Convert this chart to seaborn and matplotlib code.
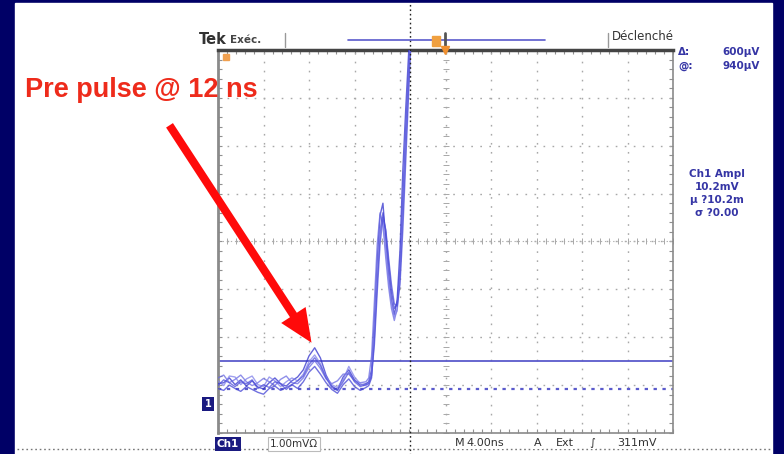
import numpy as np
import pandas as pd
import matplotlib
matplotlib.use('Agg')
import matplotlib.pyplot as plt
import seaborn as sns
from matplotlib.patches import Rectangle, FancyArrowPatch, ArrowStyle
from matplotlib.lines import Line2D

# ------------------------------------------------------------
# data (time in ns, level in mV above ground)
# ------------------------------------------------------------
time_ns = [0.0, 0.5, 1.0, 1.5, 2.0, 2.5, 3.0, 3.5, 4.0, 4.5, 5.0, 5.5, 6.0,
           6.5, 7.0, 7.5, 8.0, 8.5, 9.0, 9.5, 10.0, 10.5, 11.0, 11.5, 12.0,
           12.5, 13.0, 13.25, 13.5, 13.75, 14.0, 14.25, 14.5, 14.75, 15.0,
           15.25, 15.5, 15.75, 16.0, 16.25, 16.5, 16.75, 17.0, 17.25, 17.5]

trace_a = [0.38, 0.40, 0.50, 0.36, 0.46, 0.33, 0.44, 0.31, 0.27, 0.40, 0.50,
           0.38, 0.33, 0.44, 0.52, 0.67, 0.96, 1.13, 0.92, 0.56, 0.33, 0.25,
           0.52, 0.67, 0.46, 0.35, 0.38, 0.42, 0.67, 1.71, 2.96, 3.90, 4.15,
           3.38, 2.65, 2.13, 1.82, 2.13, 3.17, 4.84, 6.10, 7.24, 8.40, 9.50,
           10.0]
trace_b = [0.50, 0.56, 0.40, 0.47, 0.56, 0.42, 0.34, 0.40, 0.49, 0.42, 0.34,
           0.47, 0.54, 0.40, 0.38, 0.50, 0.72, 0.86, 0.70, 0.48, 0.38, 0.44,
           0.58, 0.58, 0.44, 0.40, 0.42, 0.50, 0.95, 2.10, 3.30, 3.95, 3.70,
           3.00, 2.40, 1.95, 1.70, 1.95, 2.80, 4.30, 5.70, 6.90, 8.10, 9.30,
           10.0]
trace_c = [0.28, 0.24, 0.35, 0.28, 0.22, 0.32, 0.26, 0.20, 0.16, 0.28, 0.33,
           0.24, 0.30, 0.36, 0.28, 0.42, 0.62, 0.74, 0.58, 0.40, 0.26, 0.18,
           0.36, 0.48, 0.32, 0.24, 0.30, 0.34, 0.50, 1.35, 2.55, 3.55, 3.95,
           3.55, 2.90, 2.30, 1.95, 2.05, 2.75, 4.10, 5.50, 6.80, 8.00, 9.20,
           10.0]
trace_d = [0.44, 0.34, 0.54, 0.52, 0.36, 0.48, 0.54, 0.36, 0.32, 0.52, 0.44,
           0.32, 0.42, 0.50, 0.44, 0.58, 0.84, 0.98, 0.80, 0.52, 0.36, 0.30,
           0.46, 0.74, 0.52, 0.38, 0.34, 0.40, 0.60, 1.50, 2.70, 3.60, 3.80,
           3.20, 2.55, 2.05, 1.78, 1.90, 2.60, 3.90, 5.30, 6.60, 7.90, 9.00,
           10.0]
trace_e = [0.34, 0.46, 0.40, 0.32, 0.42, 0.38, 0.46, 0.28, 0.36, 0.30, 0.42,
           0.38, 0.26, 0.36, 0.44, 0.54, 0.78, 0.92, 0.76, 0.50, 0.30, 0.24,
           0.42, 0.62, 0.42, 0.32, 0.36, 0.38, 0.55, 1.20, 2.30, 3.30, 3.85,
           3.60, 3.00, 2.45, 2.05, 2.00, 2.45, 3.60, 5.00, 6.40, 7.70, 8.90,
           10.0]

trace_names = ['a', 'b', 'c', 'd', 'e']
trace_vals = [trace_a, trace_b, trace_c, trace_d, trace_e]

cursor_solid = 0.86     # mV
cursor_dotted = 0.27    # mV
trigger_line_ns = 16.9  # black dotted marker

status_top = ['Tek', 'Exéc.', 'Déclenché']
cursor_text = [('Δ:', '600µV'), ('@:', '940µV')]
meas_lines = ['Ch1 Ampl', '10.2mV', 'µ ?10.2m', 'σ ?0.00']
bottom_text = ['Ch1', '1.00mVΩ', 'M', '4.00ns', 'A', 'Ext', '∫', '311mV']
note = 'Pre pulse @ 12 ns'

df = pd.concat([pd.DataFrame({'t': time_ns, 'v': v, 'trace': n})
                for n, v in zip(trace_names, trace_vals)], ignore_index=True)

# ------------------------------------------------------------
W, H = 784, 454
sns.set_style('white')
plt.rcParams['font.family'] = ['DejaVu Sans']

fig = plt.figure(figsize=(W / 100, H / 100), dpi=100)
fig.patch.set_facecolor('#000066')


def fx(x):
    return x / W


def fy(y):
    return 1 - y / H


# white screen panel
fig.add_artist(Rectangle((fx(15), 0), fx(772) - fx(15), fy(3),
                         transform=fig.transFigure, color='white', zorder=0))

# graticule axes
L, R, T, B = 218, 673, 50, 433
ax = fig.add_axes([fx(L), fy(B), fx(R) - fx(L), fy(T) - fy(B)])
ax.set_facecolor('white')
ymin, ymax = -0.65, 7.35
ax.set_xlim(0, 40)
ax.set_ylim(ymin, ymax)

# dotted division grid
for xv in np.arange(4, 40, 4):
    ax.axvline(xv, color='#a8a8a8', lw=1, ls=(0, (1.2, 5.3)), zorder=1)
for yv in np.arange(ymin + 1, ymax - 0.01, 1):
    ax.axhline(yv, color='#a8a8a8', lw=1, ls=(0, (1.2, 5.3)), zorder=1)

# center cross with fine ticks
yc = ymin + 4
ax.axhline(yc, color='#b0b0b0', lw=0.8, ls=(0, (1.2, 2.5)), zorder=1)
ax.plot(np.arange(0, 40.01, 0.8), np.full(51, yc), ls='none', marker='|',
        ms=4, mew=0.7, color='#a8a8a8', zorder=1)
ax.plot(np.full(41, 20), np.arange(ymin, ymax + 0.01, 0.2), ls='none',
        marker='_', ms=5, mew=0.7, color='#a8a8a8', zorder=1)

# traces
sns.lineplot(data=df, x='t', y='v', hue='trace', estimator=None, ax=ax,
             palette=['#3030cc', '#6a6ae2', '#4242d4', '#8080ea', '#5050da'],
             lw=1.0, alpha=0.75, legend=False, zorder=3)

# cursors
ax.axhline(cursor_solid, color='#5a5acc', lw=1.3, zorder=2)
ax.axhline(cursor_dotted, color='#5a5acc', lw=1.6, ls=(0, (1.5, 2.5)), zorder=2)
ax.axvline(trigger_line_ns, ymin=-0.06, ymax=1.125, color='#222222', lw=1,
           ls=(0, (1.2, 2)), clip_on=False, zorder=4)

ax.set_xlabel('')
ax.set_ylabel('')
ax.set_xticks(np.arange(0, 40.01, 0.8), minor=True)
ax.set_yticks(np.arange(ymin, ymax + 0.01, 0.2), minor=True)
ax.set_xticks([])
ax.set_yticks([])
ax.tick_params(which='minor', direction='in', length=3, width=0.8,
               color='#909090', top=True, right=True, bottom=True, left=True,
               labelbottom=False, labelleft=False)
for side in ['left', 'right', 'bottom']:
    ax.spines[side].set_color('#8a8a8a')
    ax.spines[side].set_linewidth(1.2)
ax.spines['left'].set_linewidth(2)
ax.spines['top'].set_color('#444444')
ax.spines['top'].set_linewidth(2.5)

# top status bar
fig.text(fx(199), fy(40), status_top[0], fontsize=10.5, fontweight='bold',
         color='#333333', va='center', ha='left')
fig.text(fx(230), fy(40), status_top[1], fontsize=7.5, fontweight='bold',
         color='#444444', va='center', ha='left')
fig.text(fx(612), fy(37), status_top[2], fontsize=8.5, color='#333333',
         va='center', ha='left')
for xs in [285, 608]:
    fig.add_artist(Line2D([fx(xs), fx(xs)], [fy(33), fy(47)], color='#999999',
                          lw=1, transform=fig.transFigure))
fig.add_artist(Line2D([fx(348), fx(545)], [fy(40), fy(40)], color='#5a5acc',
                      lw=1.2, transform=fig.transFigure))
fig.add_artist(Rectangle((fx(432), fy(46)), fx(8), fy(36) - fy(46),
                         transform=fig.transFigure, color='#f0a040', zorder=5))
fig.add_artist(Line2D([fx(445), fx(445)], [fy(33), fy(49)], color='#555555',
                      lw=2, transform=fig.transFigure, zorder=5))
fig.add_artist(Line2D([fx(445)], [fy(50)], marker='v', ms=6, color='#f09030',
                      transform=fig.transFigure, zorder=6))
fig.add_artist(Line2D([fx(226)], [fy(57)], marker='s', ms=4, color='#f0a050',
                      transform=fig.transFigure, zorder=6))

# cursor readouts
for i, (lab, val) in enumerate(cursor_text):
    yy = 52 + 14 * i
    fig.text(fx(678), fy(yy), lab, fontsize=7.5, fontweight='bold',
             color='#3535a5', va='center', ha='left')
    fig.text(fx(760), fy(yy), val, fontsize=7.5, fontweight='bold',
             color='#3535a5', va='center', ha='right')

for i, line in enumerate(meas_lines):
    fig.text(fx(717), fy(174 + 13 * i), line, fontsize=7.5, fontweight='bold',
             color='#3535a5', va='center', ha='center')

# ground marker
fig.text(fx(208), fy(404), '1', fontsize=7, fontweight='bold', color='white',
         va='center', ha='center',
         bbox=dict(boxstyle='square,pad=0.25', fc='#1a1a80', ec='none'))

# bottom status line
fig.add_artist(Line2D([fx(17), fx(770)], [fy(449), fy(449)], color='#777777',
                      lw=1, ls=(0, (1.2, 2)), transform=fig.transFigure))
fig.text(fx(228), fy(444), bottom_text[0], fontsize=7.5, fontweight='bold',
         color='white', va='center', ha='center',
         bbox=dict(boxstyle='square,pad=0.2', fc='#1a1a80', ec='none'))
fig.text(fx(294), fy(444), bottom_text[1], fontsize=7.5, color='#333333',
         va='center', ha='center',
         bbox=dict(boxstyle='square,pad=0.15', fc='white', ec='#bbbbbb', lw=0.8))
bx = [460, 485, 538, 565, 592, 637]
for xb, s in zip(bx, bottom_text[2:]):
    fig.text(fx(xb), fy(443), s, fontsize=8, color='#333333', va='center',
             ha='center', bbox=dict(boxstyle='square,pad=0.1', fc='white',
                                    ec='none'))

# annotation
fig.text(fx(25), fy(90), note, fontsize=19.5, fontweight='bold',
         color='#ee2b1b', va='center', ha='left', family='Liberation Sans')
arrow = FancyArrowPatch((fx(168), fy(123)), (fx(313), fy(345)),
                        transform=fig.transFigure,
                        arrowstyle=ArrowStyle.Simple(head_length=1.7,
                                                     head_width=1.5,
                                                     tail_width=0.42),
                        mutation_scale=14, color='#ff0a0a', lw=0, zorder=10)
fig.add_artist(arrow)

fig.savefig('out.png', dpi=100, facecolor=fig.get_facecolor())
